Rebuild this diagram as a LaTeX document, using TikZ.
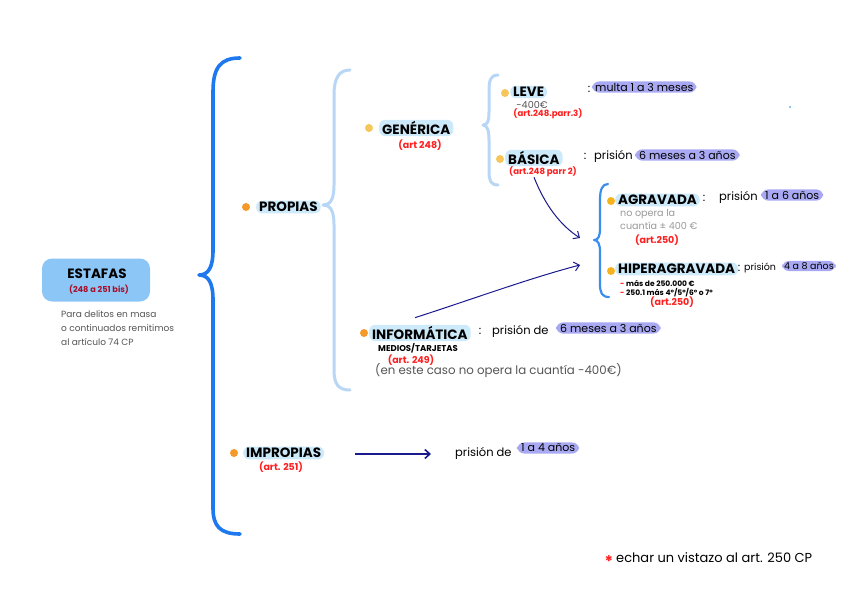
\documentclass[tikz,border=0pt]{standalone}
\usepackage{fontspec}
\setmainfont{Poppins}
\usetikzlibrary{arrows.meta}
\definecolor{bigblue}{HTML}{1E78EE}
\definecolor{midblue}{HTML}{3A8EF0}
\definecolor{lightbrace}{HTML}{B8D7F6}
\definecolor{blobblue}{HTML}{8CC6F6}
\definecolor{hlblue}{HTML}{CDEAFA}
\definecolor{pill}{HTML}{A9A9F3}
\definecolor{dotorange}{HTML}{F59A2A}
\definecolor{dotyellow}{HTML}{F7C65A}
\definecolor{dotgold}{HTML}{F5B41E}
\definecolor{artred}{HTML}{FF1F1F}
\definecolor{darkred}{HTML}{A8102A}
\definecolor{navy}{HTML}{1A1A8C}
\definecolor{notegray}{HTML}{555555}
\definecolor{lightgray}{HTML}{9A9A9A}
\tikzset{
  bigbrace/.style={draw=bigblue, line width=3.6pt, line cap=round, line join=round},
  lbrace/.style={draw=lightbrace, line width=3pt, line cap=round, line join=round},
  mbrace/.style={draw=midblue, line width=2.2pt, line cap=round, line join=round},
  title/.style={fill=hlblue, rounded corners=6pt, inner xsep=3pt, inner ysep=1.5pt, font=\bfseries\fontsize{13.5}{14}\selectfont, text=black},
  bdot/.style={circle, inner sep=0pt, minimum size=8pt},
  artnote/.style={text=artred, font=\bfseries\fontsize{9.5}{10}\selectfont, inner sep=0pt},
  smallart/.style={text=artred, font=\bfseries\fontsize{8.6}{9}\selectfont, inner sep=0pt},
  plain/.style={font=\fontsize{11.5}{13}\selectfont, inner sep=0pt, text=black},
  pillbox/.style={fill=pill, rounded corners=7pt, inner xsep=4pt, inner ysep=1.5pt, font=\fontsize{11}{12}\selectfont, text=black},
  grayt/.style={text=lightgray, font=\fontsize{9.6}{11}\selectfont, inner sep=0pt},
  tiny/.style={font=\bfseries\fontsize{7.5}{8}\selectfont, inner sep=0pt, text=black},
  navyarrow/.style={draw=navy, line width=1pt, -{Straight Barb[length=5pt,width=9pt]}},
}
\begin{document}
\begin{tikzpicture}[x=1pt,y=-1pt]
\useasboundingbox[fill=white] (0,0) rectangle (848,599);

% braces
\draw[bigbrace] (240,58) .. controls (220,58) and (213,68) .. (213,92) -- (213,250) .. controls (213,268) and (208,275) .. (199,275) .. controls (208,275) and (213,282) .. (213,300) -- (213,508) .. controls (213,526) and (220,534) .. (240,534);
\draw[lbrace] (350,70) .. controls (339,70) and (334,78) .. (334,95) -- (334,185) .. controls (334,200) and (330,205) .. (323,205) .. controls (330,205) and (334,210) .. (334,225) -- (334,370) .. controls (334,385) and (339,390) .. (350,390);
\draw[lbrace] (498,75) .. controls (491,75) and (489,80) .. (489,90) -- (489,112) .. controls (489,122) and (487,125) .. (483,125) .. controls (487,125) and (489,130) .. (489,140) -- (489,172) .. controls (489,181) and (491,185) .. (498,185);
\draw[mbrace] (608,184) .. controls (602,184) and (600,190) .. (600,200) -- (600,228) .. controls (600,237) and (598,240) .. (594,240) .. controls (598,240) and (600,244) .. (600,252) -- (600,284) .. controls (600,293) and (602,297) .. (609,297);

% ESTAFAS
\node[fill=blobblue, rounded corners=10pt, minimum width=108pt, minimum height=43pt] (blob) at (96,280) {};
\node[font=\bfseries\fontsize{13.5}{14}\selectfont, inner sep=0pt] (estafas) at (97,274) {ESTAFAS};
\node[font=\bfseries\fontsize{8.2}{9}\selectfont, text=darkred, inner sep=0pt] (estafasart) at (99,290) {(248 a 251 bis)};
\node[anchor=north west, align=left, text=notegray, font=\fontsize{9}{14}\selectfont, inner sep=0pt] (nota) at (61,310) {Para delitos en masa\\o continuados remitimos\\al artículo 74 CP};

% PROPIAS
\node[bdot, fill=dotorange] (dprop) at (246,207) {};
\node[title, anchor=west] (propias) at (256,207) {PROPIAS};

% GENERICA
\node[bdot, fill=dotyellow] (dgen) at (369,128) {};
\node[title, anchor=west] (generica) at (379,128) {GENÉRICA};
\node[artnote] (genart) at (420,145) {(art 248)};

% LEVE
\node[bdot, fill=dotyellow] (dleve) at (505,93) {};
\node[title, anchor=west] (leve) at (510,92) {LEVE};
\node[grayt, text=notegray] (leve400) at (532,105) {-400€};
\node[smallart] (leveart) at (548,114) {(art.248.parr.3)};
\node[plain] (levecolon) at (589,89) {:};
\node[pillbox, anchor=west, inner xsep=3pt] (levepill) at (592,87) {multa 1 a 3 meses};

% BASICA
\node[bdot, fill=dotyellow] (dbas) at (500,159) {};
\node[title, anchor=west] (basica) at (505,158) {BÁSICA};
\node[smallart] (basart) at (543,172) {(art.248 parr 2)};
\node[plain] (bascolon) at (585,156) {:};
\node[plain, anchor=west] (basprision) at (594,156) {prisión};
\node[pillbox, anchor=west] (baspill) at (635,155) {6 meses a 3 años};

% AGRAVADA
\node[bdot, fill=dotgold] (dagr) at (611,201) {};
\node[title, anchor=west] (agravada) at (615,200) {AGRAVADA};
\node[plain] (agrcolon) at (704,198) {:};
\node[plain, anchor=west] (agrprision) at (719,197) {prisión};
\node[pillbox, anchor=west] (agrpill) at (761,195) {1 a 6 años};
\node[grayt, anchor=west] (agrnote1) at (620,214) {no opera la};
\node[grayt, anchor=west] (agrnote2) at (620,226) {cuantía ± 400 €};
\node[artnote] (agrart) at (657,240) {(art.250)};

% HIPERAGRAVADA
\node[bdot, fill=dotgold] (dhip) at (611,271) {};
\node[title, anchor=west] (hiper) at (615,269) {HIPERAGRAVADA};
\node[plain] (hipcolon) at (739,268) {:};
\node[plain, anchor=west, font=\fontsize{9.5}{11}\selectfont] (hipprision) at (744,268) {prisión};
\node[pillbox, anchor=west, inner xsep=2pt, font=\fontsize{9.5}{11}\selectfont] (hippill) at (782,266) {4 a 8 años};
\node[tiny, anchor=west] (hipnote1) at (620,283) {\textcolor{artred}{-} más de 250.000 €};
\node[tiny, anchor=west] (hipnote2) at (620,293) {\textcolor{artred}{-} 250.1 más 4º/5º/6º o 7º};
\node[artnote] (hipart) at (672,302) {(art.250)};

% INFORMATICA
\node[bdot, fill=dotorange] (dinf) at (364,333) {};
\node[title, anchor=west] (informatica) at (369,333) {INFORMÁTICA};
\node[plain] (infcolon) at (480,331) {:};
\node[plain, anchor=west] (infprision) at (492,331) {prisión de};
\node[pillbox, anchor=west] (infpill) at (556,328) {6 meses a 3 años};
\node[tiny, font=\bfseries\fontsize{8.5}{9}\selectfont, anchor=west] (infmedios) at (378,348) {MEDIOS/TARJETAS};
\node[artnote] (infart) at (411,360) {(art. 249)};
\node[anchor=west, text=notegray, font=\fontsize{11.8}{13}\selectfont, inner sep=0pt] (infnote) at (375,371) {(en este caso no opera la cuantía -400€)};

% IMPROPIAS
\node[bdot, fill=dotorange] (dimp) at (234,453) {};
\node[title, anchor=west] (impropias) at (243,453) {IMPROPIAS};
\node[artnote] (impart) at (281,467) {(art. 251)};
\node[plain, anchor=west] (impprision) at (455,453) {prisión de};
\node[pillbox, anchor=west] (imppill) at (517,448) {1 a 4 años};

% connectors
\coordinate (tip4) at (580,238);
\coordinate (tip5) at (580,265);
\coordinate (impstart) at (355,454);
\coordinate (impend) at (431,454);
\draw[navyarrow] ([xshift=-9pt]basart.south) .. controls (545,205) and (560,225) .. (tip4);
\draw[navyarrow] ([shift={(46pt,7pt)}]informatica.north west) .. controls (470,300) and (530,278) .. (tip5);
\draw[navyarrow, line width=1.6pt] (impstart) -- (impend);

% stray mark
\node[fill=blobblue, inner sep=1pt] (mark) at (790,107) {};

% footnote
\node[text=artred, font=\bfseries\fontsize{16}{16}\selectfont, inner sep=0pt] (star) at (609,562) {*};
\node[plain, anchor=west, font=\fontsize{13}{14}\selectfont] (foot) at (616,558) {echar un vistazo al art. 250 CP};
\end{tikzpicture}
\end{document}
